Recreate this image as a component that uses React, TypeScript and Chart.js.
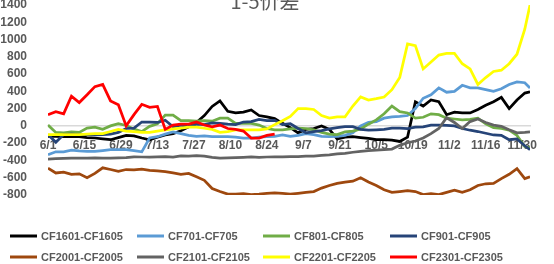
import React, { useEffect, useRef } from 'react';
import { Chart, registerables } from 'chart.js';

Chart.register(...registerables);

// days since 6/1
const dayOffsets = [
  0, 3, 6, 9, 12, 15, 18, 21, 24, 27, 30, 33, 36, 39, 42, 45, 48, 51, 54, 57,
  60, 63, 66, 69, 72, 75, 78, 81, 84, 87, 90, 93, 96, 99, 102, 105, 108, 111, 114, 117,
  120, 123, 126, 129, 132, 135, 138, 141, 144, 147, 150, 153, 156, 159, 162, 165, 168, 171, 174, 177,
  180, 183, 185,
];

const xTickLabels = ['6/1', '6/15', '6/29', '7/13', '7/27', '8/10', '8/24', '9/7', '9/21', '10/5', '10/19', '11/2', '11/16', '11/30'];

const cf1601 = [
  -120, -120, -125, -120, -125, -135, -140, -150, -160, -135,
  -110, -115, -140, -160, -130, -105, -90, -55, -10, 40,
  120, 225, 290, 170, 150, 160, 185, 120, 105, 85,
  30, -20, -80, -40, -30, 0, -40, -150, -130, -125,
  -135, -145, -160, -160, -165, -180, -130, 280, 230, 300,
  280, 130, 160, 150, 150, 190, 240, 280, 330, 200,
  300, 380, 395,
];
const cf701 = [
  -335, -300, -300, -280, -290, -295, -295, -285, -275, -275,
  -275, -285, -300, -140, -125, -95, -70, -90, -110, -120,
  -115, -125, -125, -125, -130, -140, -140, -130, -125, -120,
  -105, -120, -110, -90, -100, -120, -125, -120, -110, -80,
  0, 40, 50, 90, 105, 110, 120, 200, 320, 360,
  440, 390, 400, 470, 440, 440, 420, 400, 430, 480,
  510, 500, 440,
];
const cf801 = [
  10, -75, -80, -70, -75, -25, -15, -40, 0, 25,
  5, -35, -65, -5, 25, 125, 125, 60, 60, 55,
  60, 55, 90, 90, 30, 30, 30, 10, -30, -45,
  -45, -35, -25, -30, -45, -75, -95, -100, -70, -60,
  -35, 20, 70, 140, 230, 165, 150, 90, 100, 140,
  130, 90, 80, 70, 75, 90, 25, -20, -30, -50,
  -110, -240, -255,
];
const cf901 = [
  -100, -190, -100, -95, -100, -100, -105, -100, -95, -75,
  -30, -25, 45, 45, 40, 65, -10, 10, -10, 20,
  15, 35, 30, 20, 15, 45, 50, 75, 60, 65,
  15, 25, -30, -80, -65, -55, -35, -20, -8, -8,
  -40, -50, -45, -40, -27, -25, -30, -15, -10, 10,
  10, 5, 0, -30, -50, -65, -85, -105, -110, -160,
  -150, -230, -275,
];
const cf2001 = [
  -490, -545, -535, -560, -555, -600, -550, -485, -505, -525,
  -505, -510, -500, -515, -520, -530, -545, -560, -550, -590,
  -630, -725, -760, -790, -790, -785, -795, -790, -780, -775,
  -780, -790, -780, -770, -760, -720, -690, -665, -650, -640,
  -600, -650, -690, -740, -770, -760, -750, -760, -795, -785,
  -795, -770, -745, -770, -740, -690, -670, -665, -610, -560,
  -495, -610, -590,
];
const cf2101 = [
  -385, -380, -375, -372, -372, -372, -370, -372, -372, -370,
  -368, -358, -360, -360, -358, -355, -360, -348, -350, -345,
  -350, -365, -372, -370, -368, -365, -360, -365, -360, -358,
  -358, -355, -355, -350, -350, -340, -335, -325, -318, -305,
  -295, -285, -280, -275, -268, -225, -195, -175, -140, -90,
  -30, 95, 40, -30, 50, 80, 40, 10, -5, -45,
  -80, -75, -70,
];
const cf2201 = [
  -100, -100, -100, -100, -100, -95, -90, -90, -65, -40,
  -60, -65, -75, -75, -60, -45, -35, -25, -15, -15,
  -27, -40, -75, -65, -45, -45, -45, -45, -35, 15,
  60, 110, 200, 200, 190, 120, 90, 105, 105, 230,
  335, 300, 315, 335, 420, 560, 950, 930, 660, 740,
  820, 840, 840, 720, 660, 480, 560, 630, 645, 720,
  830, 1120, 1400,
];
const cf2301 = [
  130, 165, 140, 345, 270, 360, 455, 480, 290, 245,
  0, 130, 250, 215, 225, -40, 10, 20, 20, 45,
  10, -10, 10, -30, -40, -60, -140, -140, -110, -95,
  null, null, null, null, null, null, null, null, null, null,
  null, null, null, null, null, null, null, null, null, null,
  null, null, null, null, null, null, null, null, null, null,
  null, null, null,
];

const seriesNames = ['CF1601-CF1605', 'CF701-CF705', 'CF801-CF805', 'CF901-CF905', 'CF2001-CF2005', 'CF2101-CF2105', 'CF2201-CF2205', 'CF2301-CF2305'];
const seriesValues = [cf1601, cf701, cf801, cf901, cf2001, cf2101, cf2201, cf2301];
const seriesColors = ['#000000', '#5B9BD5', '#70AD47', '#264478', '#9E480E', '#636363', '#FFFF00', '#FF0000'];

const TEXT = '#595959';
const FONT = 'Liberation Sans, Arial, sans-serif';

const titlePlugin = {
  id: 'titleTop',
  afterDraw(chart: any) {
    const ctx = chart.ctx;
    ctx.save();
    ctx.fillStyle = TEXT;
    ctx.font = '20px "Noto Sans CJK SC", sans-serif';
    ctx.textAlign = 'center';
    ctx.textBaseline = 'alphabetic';
    ctx.fillText('1-5价差', 265, 9);
    ctx.restore();
  },
};

const legendPlugin = {
  id: 'gridLegend',
  afterDraw(chart: any) {
    const ctx = chart.ctx;
    const cols = [10, 137, 263, 390];
    const rows = [236, 257];
    ctx.save();
    ctx.font = 'bold 11px ' + FONT;
    ctx.textBaseline = 'middle';
    ctx.textAlign = 'left';
    chart.data.datasets.forEach((ds: any, i: number) => {
      const x = cols[i % 4];
      const y = rows[Math.floor(i / 4)];
      ctx.strokeStyle = ds.borderColor;
      ctx.lineWidth = 3;
      ctx.beginPath();
      ctx.moveTo(x, y);
      ctx.lineTo(x + 27, y);
      ctx.stroke();
      ctx.fillStyle = TEXT;
      ctx.fillText(ds.label, x + 31, y + 0.5);
    });
    ctx.restore();
  },
};

export default function App() {
  const ref = useRef<HTMLCanvasElement>(null);
  useEffect(() => {
    document.body.style.margin = '0';
    const canvas = ref.current!;
    const chart = new Chart(canvas, {
      type: 'line',
      data: {
        datasets: seriesNames.map((name, i) => ({
          label: name,
          data: dayOffsets.map((d, j) => ({ x: d, y: seriesValues[i][j] as any })),
          borderColor: seriesColors[i],
          backgroundColor: seriesColors[i],
          borderWidth: 2.75,
          pointRadius: 0,
          tension: 0,
          spanGaps: false,
          order: seriesNames.length - i,
        })),
      },
      options: {
        responsive: false,
        animation: false,
        devicePixelRatio: 1,
        layout: { padding: { top: 5, bottom: 69, left: 0, right: 24 } },
        plugins: { legend: { display: false }, title: { display: false }, tooltip: { enabled: false } },
        scales: {
          x: {
            type: 'linear',
            min: 0,
            max: 185,
            position: { y: 0 } as any,
            grid: { display: false },
            border: { display: true, color: '#D9D9D9', width: 1.5 },
            afterBuildTicks: (scale: any) => {
              scale.ticks = xTickLabels.map((_, i) => ({ value: i * 14 }));
            },
            ticks: {
              autoSkip: false,
              maxRotation: 0,
              minRotation: 0,
              padding: 5,
              color: TEXT,
              font: { family: FONT, size: 12, weight: 'bold' },
              callback: (v: any) => {
                const idx = Math.round(Number(v) / 14);
                return Number(v) % 14 === 0 ? xTickLabels[idx] : '';
              },
            },
          },
          y: {
            type: 'linear',
            min: -800,
            max: 1400,
            grid: { display: false },
            border: { display: false },
            afterFit: (s: any) => {
              s.width = 48;
              s.paddingTop = 0;
              s.paddingBottom = 0;
            },
            ticks: {
              stepSize: 200,
              autoSkip: false,
              padding: 13,
              color: TEXT,
              font: { family: FONT, size: 12, weight: 'bold' },
              callback: (v: any) => String(v),
            },
          },
        },
      } as any,
      plugins: [titlePlugin, legendPlugin],
    });
    return () => chart.destroy();
  }, []);
  return (
    <div style={{ position: 'absolute', left: 0, top: 0, width: 554, height: 264, background: '#fff' }}>
      <canvas ref={ref} width={554} height={264} style={{ display: 'block', width: 554, height: 264 }} />
    </div>
  );
}
